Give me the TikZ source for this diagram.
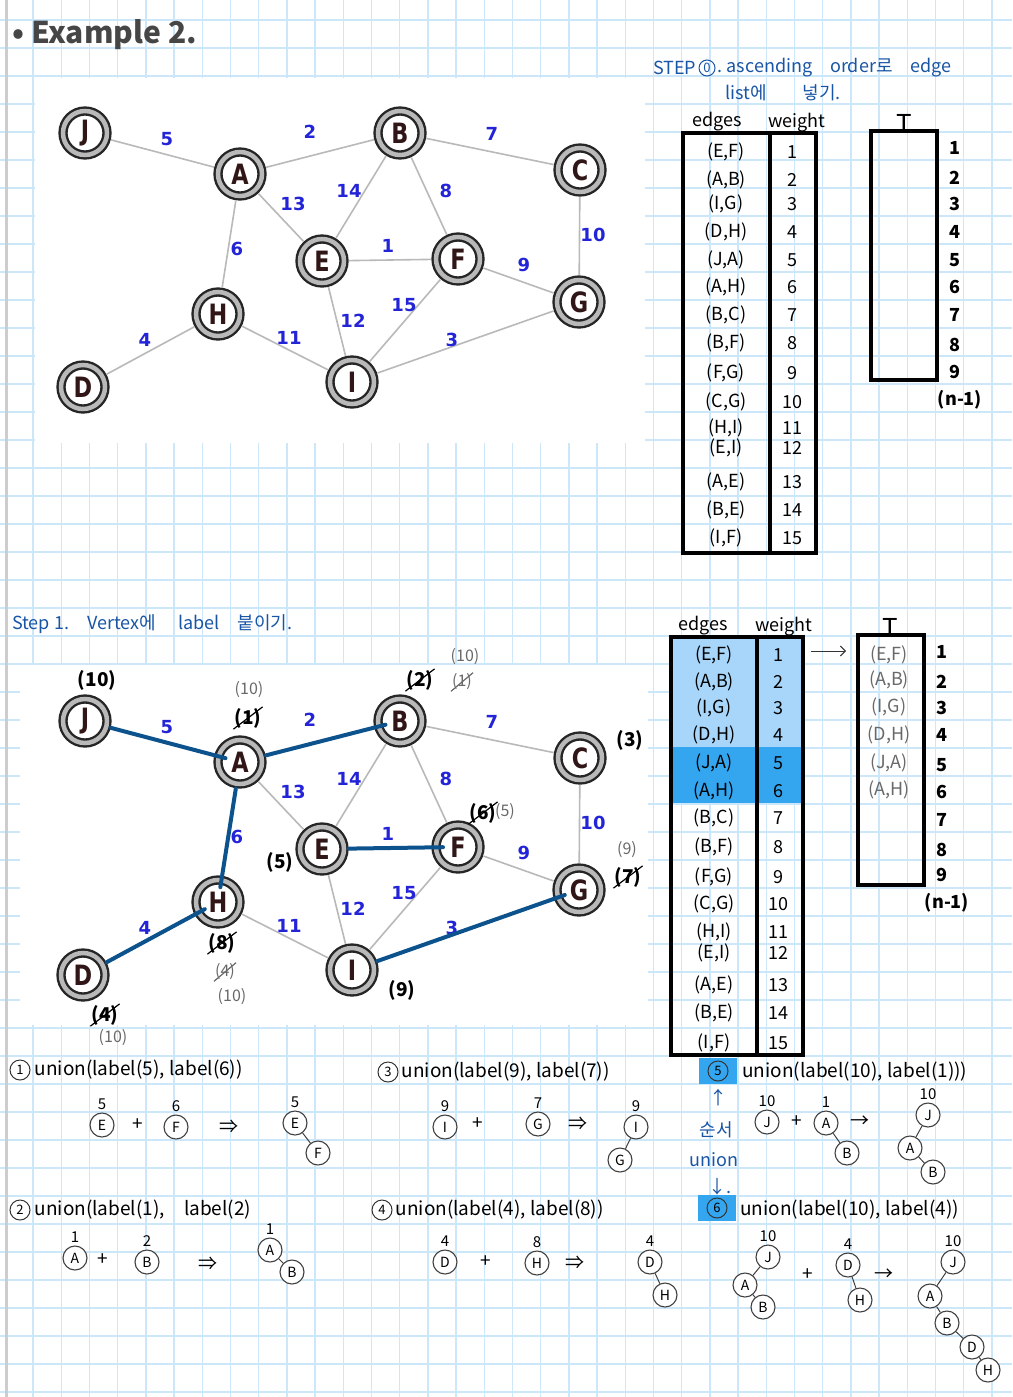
\documentclass[tikz,border=0pt]{standalone}
\usepackage{fontspec}
\setmainfont{Noto Sans CJK KR}
\newfontfamily\hand{Noto Sans CJK KR}
\newfontfamily\vfont[FakeStretch=0.8]{DejaVu Sans}
\newfontfamily\wfont{DejaVu Sans}
\usetikzlibrary{positioning,arrows.meta}
\definecolor{gridblue}{RGB}{204,230,250}
\definecolor{margingray}{RGB}{205,205,205}
\definecolor{inkblue}{RGB}{25,85,165}
\definecolor{mstblue}{RGB}{12,82,140}
\definecolor{wblue}{RGB}{35,35,215}
\definecolor{letterc}{RGB}{48,22,22}
\definecolor{pencil}{RGB}{105,105,105}
\definecolor{inkgray}{RGB}{70,70,70}
\definecolor{lightfill}{RGB}{168,214,250}
\definecolor{brightfill}{RGB}{52,166,240}

% graph data: name/x/y
\newcommand\graphnodes{J/85/133, A/240/174, B/400/133, C/580/170, E/322/261, F/458/259, G/579/302, H/218/314, D/83/387, I/352/382}
% from/to/weight/label x/label y
\newcommand\graphedges{J/A/5/167/139, A/B/2/310/132, B/C/7/492/134, A/E/13/293/204, B/E/14/349/191, B/F/8/446/191, A/H/6/237/249, E/F/1/388/246, C/G/10/593/235, F/G/9/524/265, I/F/15/404/305, E/I/12/353/321, H/I/11/289/338, D/H/4/145/340, I/G/3/452/340}
% tree vertex with its label written above
\newcommand\tvw[5]{\node[tnode] (#1) at (#2,#3) {#4}; \node[tnum, above=3pt of #1] (#1w) {#5};}

\begin{document}
\begin{tikzpicture}[
    x=1pt, y=-1pt,
    gridline/.style={gridblue, line width=1.4pt},
    vertex/.style={
        circle,
        draw=black!85,
        line width=2.4pt,
        double=gray!55,
        double distance=4.5pt,
        fill=white,
        minimum size=44pt,
        inner sep=0pt,
        outer sep=5pt,
        text=letterc,
        font=\vfont\bfseries\fontsize{28}{28}\selectfont
    },
    gline/.style={gray!55, line width=1.6pt},
    mstline/.style={mstblue, line width=4pt, line cap=round, shorten >=-12pt},
    weight/.style={text=wblue, inner sep=0pt, font=\wfont\bfseries\fontsize{18}{18}\selectfont},
    inkpen/.style={inner sep=1pt, text=black, font=\hand\bfseries\fontsize{19}{19}\selectfont},
    leadpen/.style={inner sep=1pt, text=pencil, font=\hand\fontsize{16}{16}\selectfont},
    tabline/.style={black, line width=3.5pt},
    tabtext/.style={inner sep=0pt, font=\hand\fontsize{18}{18}\selectfont},
    handtxt/.style={inner sep=0pt, font=\hand\fontsize{19}{19}\selectfont},
    bluetxt/.style={inner sep=0pt, text=inkblue, font=\hand\fontsize{18}{18}\selectfont},
    cnum/.style={circle, draw=black!80, line width=1pt, inner sep=0pt, minimum size=20pt, font=\hand\fontsize{13}{13}\selectfont},
    tnode/.style={circle, draw=black!75, line width=1.1pt, inner sep=0pt, minimum size=24pt, fill=white, font=\hand\fontsize{14}{14}\selectfont},
    tnum/.style={inner sep=0pt, font=\hand\fontsize{15}{15}\selectfont},
    tline/.style={black!75, line width=1pt},
    hlbox/.style={fill=brightfill, minimum width=38pt, minimum height=26pt, inner sep=0pt}
]
\useasboundingbox (0,0) rectangle (1012,1397);

% === paper ===
\fill[white] (0,0) rectangle (1012,1397);
\foreach \k in {0,...,35}
    \draw[gridline] ({33+28.2*\k},0) -- ({33+28.2*\k},1397);
\foreach \k in {0,...,49}
    \draw[gridline] (0,{20+28*\k}) -- (1012,{20+28*\k});
\draw[margingray, line width=3pt] (6,0) -- (6,1397);

% === titles ===
\node[handtxt, anchor=west, text=inkgray, font=\hand\bfseries\fontsize{30}{30}\selectfont] (title) at (12,35) {• Example 2.};
\node[bluetxt, anchor=west] (st0a) at (653,68) {STEP};
\node[cnum, draw=inkblue, text=inkblue, minimum size=16pt, right=2pt of st0a] (st0n) {0};
\node[bluetxt, anchor=west, right=2pt of st0n] (st0b) {.\ ascending\quad order로\quad edge};
\node[bluetxt, anchor=west] (st0c) at (725,93) {list에\qquad 넣기.};
\node[bluetxt, anchor=west] (st1) at (12,624) {Step 1.\quad Vertex에\quad\ label\quad 붙이기.};

% === top graph ===
\fill[white] (35,78) rectangle (645,443);
\foreach \n/\x/\y in \graphnodes
    \node[vertex] (t\n) at (\x,\y) {\n};
\foreach \a/\b/\w/\lx/\ly in \graphedges {
    \draw[gline] (t\a) -- (t\b);
    \node[weight] (tw\w) at (\lx,\ly) {\w};
}

% === labelled graph ===
\fill[white] (20,665) rectangle (648,1025);
\begin{scope}[shift={(0,588)}]
\foreach \n/\x/\y in \graphnodes
    \node[vertex] (b\n) at (\x,\y) {\n};
\foreach \a/\b/\w/\lx/\ly in \graphedges {
    \draw[gline] (b\a) -- (b\b);
    \node[weight] (bw\w) at (\lx,\ly) {\w};
}
\end{scope}
\draw[mstline] (bJ) -- (bA);
\draw[mstline] (bA) -- (bB);
\draw[mstline] (bA) -- (bH);
\draw[mstline] (bD) -- (bH);
\draw[mstline] (bE) -- (bF);
\draw[mstline] (bI) -- (bG);

% vertex labels
\foreach \x/\y/\t/\s [count=\k] in {97/680/{(10)}/inkpen, 249/690/{(10)}/leadpen, 465/657/{(10)}/leadpen, 630/740/{(3)}/inkpen, 505/812/{(5)}/leadpen, 280/862/{(5)}/inkpen, 627/850/{(9)}/leadpen, 232/997/{(10)}/leadpen, 402/990/{(9)}/inkpen, 113/1038/{(10)}/leadpen}
    \node[\s] (vl\k) at (\x,\y) {\t};
% crossed out labels
\foreach \x/\y/\t/\s/\c [count=\k] in {248/718/{(1)}/inkpen/black, 420/680/{(2)}/inkpen/black, 462/682/{(1)}/leadpen/pencil, 483/813/{(6)}/inkpen/black, 628/877/{(7)}/inkpen/black, 222/943/{(8)}/inkpen/black, 225/972/{(4)}/leadpen/pencil, 105/1015/{(4)}/inkpen/black} {
    \node[\s] (xl\k) at (\x,\y) {\t};
    \draw[\c, line width=1.2pt] (xl\k.south west) -- (xl\k.north east);
}

% === edge list (step 0) ===
\node[tabtext] (th1) at (717,122) {edges};
\node[tabtext] (th2) at (797,123) {weight};
\draw[tabline] (683,133) rectangle (816,553);
\draw[tabline] (770,133) -- (770,553);
\foreach \e/\w/\y in {{(E,F)}/1/152, {(A,B)}/2/180, {(I,G)}/3/204, {(D,H)}/4/232, {(J,A)}/5/260, {(A,H)}/6/287, {(B,C)}/7/315, {(B,F)}/8/343, {(F,G)}/9/373, {(C,G)}/10/402, {(H,I)}/11/428, {(E,I)}/12/448, {(A,E)}/13/482, {(B,E)}/14/510, {(I,F)}/15/538} {
    \node[tabtext] (te\w) at (726,\y) {\e};
    \node[tabtext] (tv\w) at (792,\y) {\w};
}
\draw[tabline] (871,131) rectangle (937,380);
\node[tabtext, font=\hand\fontsize{26}{26}\selectfont, anchor=south] (tT) at (904,134) {T};
\foreach \y [count=\i] in {148,178,204,232,260,287,315,345,372}
    \node[tabtext, font=\hand\bfseries\fontsize{18}{18}\selectfont] (tn\i) at (955,\y) {\i};
\node[tabtext, font=\hand\bfseries\fontsize{18}{18}\selectfont] (tnn) at (960,400) {(n-1)};

% === edge list (step 1) ===
\fill[lightfill] (671,638) rectangle (803,747);
\fill[brightfill] (671,747) rectangle (803,803);
\node[tabtext] (bh1) at (703,626) {edges};
\node[tabtext] (bh2) at (784,627) {weight};
\draw[tabline] (671,637) rectangle (803,1055);
\draw[tabline] (757,637) -- (757,1055);
\foreach \e/\w/\y in {{(E,F)}/1/655, {(A,B)}/2/682, {(I,G)}/3/708, {(D,H)}/4/735, {(J,A)}/5/763, {(A,H)}/6/791, {(B,C)}/7/818, {(B,F)}/8/847, {(F,G)}/9/877, {(C,G)}/10/904, {(H,I)}/11/932, {(E,I)}/12/953, {(A,E)}/13/985, {(B,E)}/14/1013, {(I,F)}/15/1043} {
    \node[tabtext] (be\w) at (714,\y) {\e};
    \node[tabtext] (bv\w) at (778,\y) {\w};
}
\draw[tabline] (858,635) rectangle (924,885);
\node[tabtext, font=\hand\fontsize{26}{26}\selectfont, anchor=south] (bT) at (890,638) {T};
\foreach \e/\y [count=\i] in {{(E,F)}/655, {(A,B)}/680, {(I,G)}/707, {(D,H)}/735, {(J,A)}/763, {(A,H)}/790}
    \node[tabtext, text=pencil] (bt\i) at (889,\y) {\e};
\coordinate (arrS) at (811,651);
\coordinate (arrE) at (846,651);
\draw[-{Straight Barb[length=5pt]}, line width=1pt, black!80] (arrS) -- (arrE);
\foreach \y [count=\i] in {652,682,708,735,765,792,820,850,875}
    \node[tabtext, font=\hand\bfseries\fontsize{18}{18}\selectfont] (bn\i) at (942,\y) {\i};
\node[tabtext, font=\hand\bfseries\fontsize{18}{18}\selectfont] (bnn) at (947,903) {(n-1)};

% === unions ===
% 1
\node[cnum] (s1) at (20,1070) {1};
\node[handtxt, right=4pt of s1] (s1t) {union(label(5), label(6))};
\tvw{s1E}{102}{1125}{E}{5}
\node[handtxt] (s1p) at (138,1125) {+};
\tvw{s1F}{176}{1127}{F}{6}
\node[handtxt] (s1a) at (229,1127) {⇒};
\tvw{s1E2}{295}{1123}{E}{5}
\node[tnode] (s1F2) at (318,1153) {F};
\draw[tline] (s1E2) -- (s1F2);

% 2
\node[cnum] (s2) at (20,1210) {2};
\node[handtxt, right=4pt of s2] (s2t) {union(label(1),\quad label(2)};
\tvw{s2A}{75}{1258}{A}{1}
\node[handtxt] (s2p) at (103,1260) {+};
\tvw{s2B}{147}{1262}{B}{2}
\node[handtxt] (s2a) at (208,1264) {⇒};
\tvw{s2A2}{270}{1250}{A}{1}
\node[tnode] (s2B2) at (292,1272) {B};
\draw[tline] (s2A2) -- (s2B2);

% 3
\node[cnum] (s3) at (388,1072) {3};
\node[handtxt, right=3pt of s3] (s3t) {union(label(9), label(7))};
\tvw{s3I}{445}{1127}{I}{9}
\node[handtxt] (s3p) at (478,1124) {+};
\tvw{s3G}{538}{1124}{G}{7}
\node[handtxt] (s3a) at (578,1124) {⇒};
\tvw{s3I2}{636}{1127}{I}{9}
\node[tnode] (s3G2) at (620,1160) {G};
\draw[tline] (s3I2) -- (s3G2);

% 4
\node[cnum] (s4) at (382,1210) {4};
\node[handtxt, right=3pt of s4] (s4t) {union(label(4), label(8))};
\tvw{s4D}{445}{1262}{D}{4}
\node[handtxt] (s4p) at (486,1262) {+};
\tvw{s4H}{537}{1263}{H}{8}
\node[handtxt] (s4a) at (575,1263) {⇒};
\tvw{s4D2}{650}{1262}{D}{4}
\node[tnode] (s4H2) at (665,1295) {H};
\draw[tline] (s4D2) -- (s4H2);

% 5
\node[hlbox] (hl5) at (718,1071) {};
\node[cnum] (s5) at (hl5) {5};
\node[handtxt, anchor=west] (s5t) at (742,1072) {union(label(10), label(1)))};
\node[bluetxt] (ord1) at (718,1098) {↑};
\node[bluetxt] (ord2) at (716,1130) {순서};
\node[bluetxt] (ord3) at (714,1160) {union};
\node[bluetxt] (ord4) at (720,1187) {↓.};
\tvw{s5J}{767}{1122}{J}{10}
\node[handtxt] (s5p) at (797,1122) {+};
\tvw{s5A}{826}{1123}{A}{1}
\node[tnode] (s5B) at (847,1153) {B};
\draw[tline] (s5A) -- (s5B);
\node[handtxt] (s5a) at (860,1122) {→};
\tvw{s5J2}{928}{1115}{J}{10}
\node[tnode] (s5A2) at (910,1148) {A};
\node[tnode] (s5B2) at (933,1172) {B};
\draw[tline] (s5J2) -- (s5A2) -- (s5B2);

% 6
\node[hlbox] (hl6) at (717,1208) {};
\node[cnum] (s6) at (hl6) {6};
\node[handtxt, anchor=west] (s6t) at (740,1210) {union(label(10), label(4))};
\tvw{s6J}{768}{1257}{J}{10}
\node[tnode] (s6A) at (745,1285) {A};
\node[tnode] (s6B) at (763,1307) {B};
\draw[tline] (s6J) -- (s6A) -- (s6B);
\node[handtxt] (s6p) at (808,1275) {+};
\tvw{s6D}{848}{1265}{D}{4}
\node[tnode] (s6H) at (860,1300) {H};
\draw[tline] (s6D) -- (s6H);
\node[handtxt] (s6a) at (884,1275) {→};
\tvw{s6J2}{953}{1262}{J}{10}
\node[tnode] (s6A2) at (930,1296) {A};
\node[tnode] (s6B2) at (947,1323) {B};
\node[tnode] (s6D2) at (972,1347) {D};
\node[tnode] (s6H2) at (988,1370) {H};
\draw[tline] (s6J2) -- (s6A2) -- (s6B2) -- (s6D2) -- (s6H2);

\end{tikzpicture}
\end{document}
